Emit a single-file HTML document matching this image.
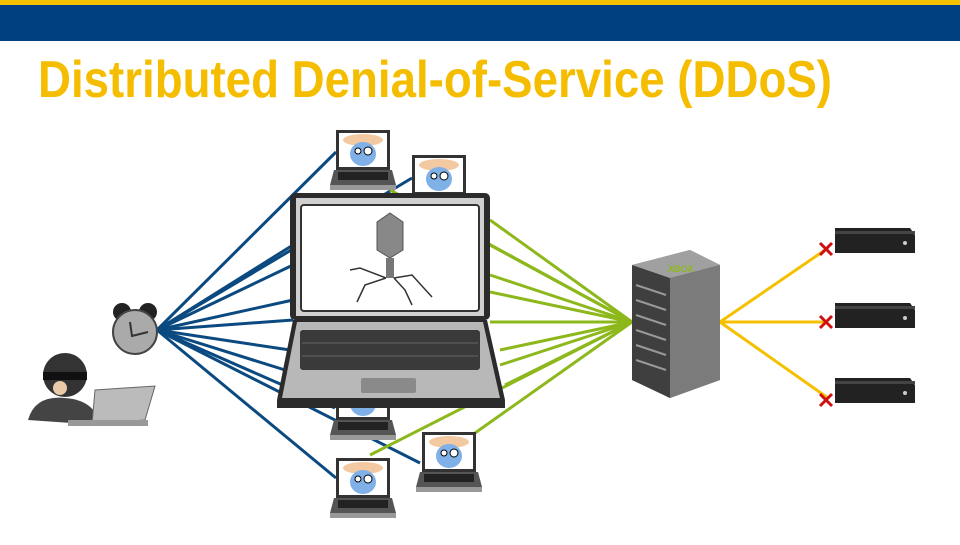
<!DOCTYPE html>
<html><head><style>
body{margin:0;width:960px;height:540px;overflow:hidden;background:#fff;font-family:"Liberation Sans",sans-serif}
</style></head><body>
<svg width="960" height="540" viewBox="0 0 960 540" xmlns="http://www.w3.org/2000/svg">
<rect x="0" y="0" width="960" height="5" fill="#f5c000"/>
<rect x="0" y="5" width="960" height="36" fill="#003f7f"/>
<text x="38" y="97" font-family="Liberation Sans, sans-serif" font-weight="bold" font-size="52" fill="#f5bd00" textLength="794" lengthAdjust="spacingAndGlyphs">Distributed Denial-of-Service (DDoS)</text>

<defs>
<g id="bot">
<rect x="0" y="0" width="54" height="40" fill="#333"/>
<rect x="3" y="3" width="48" height="34" fill="#fff"/>
<ellipse cx="27" cy="10" rx="20" ry="6" fill="#f2c9a0"/>
<ellipse cx="27" cy="24" rx="13" ry="12" fill="#7fb0e8"/>
<circle cx="22" cy="21" r="3" fill="#fff" stroke="#000"/><circle cx="32" cy="21" r="4" fill="#fff" stroke="#000"/>
<path d="M-2 40 H56 L60 55 H-6Z" fill="#555"/>
<rect x="2" y="42" width="50" height="8" fill="#222"/>
<path d="M-6 55 H60 V60 H-6Z" fill="#999"/>
</g>
</defs>

<g stroke="#0b4a80" stroke-width="3">
<line x1="157" y1="330" x2="336" y2="152"/>
<line x1="157" y1="330" x2="412" y2="178"/>
<line x1="157" y1="330" x2="293" y2="245"/>
<line x1="157" y1="330" x2="293" y2="265"/>
<line x1="157" y1="330" x2="293" y2="300"/>
<line x1="157" y1="330" x2="293" y2="320"/>
<line x1="157" y1="330" x2="290" y2="350"/>
<line x1="157" y1="330" x2="285" y2="370"/>
<line x1="157" y1="330" x2="335" y2="408"/>
<line x1="157" y1="330" x2="420" y2="463"/>
<line x1="157" y1="330" x2="336" y2="478"/>
</g>
<g stroke="#8db81c" stroke-width="3">
<line x1="632" y1="322" x2="390" y2="190"/>
<line x1="632" y1="322" x2="490" y2="220"/>
<line x1="632" y1="322" x2="490" y2="245"/>
<line x1="632" y1="322" x2="490" y2="275"/>
<line x1="632" y1="322" x2="490" y2="292"/>
<line x1="632" y1="322" x2="490" y2="322"/>
<line x1="632" y1="322" x2="500" y2="350"/>
<line x1="632" y1="322" x2="500" y2="365"/>
<line x1="632" y1="322" x2="505" y2="385"/>
<line x1="632" y1="322" x2="370" y2="455"/>
<line x1="632" y1="322" x2="475" y2="433"/>
</g>
<g stroke="#f5c000" stroke-width="3">
<line x1="720" y1="322" x2="828" y2="248"/>
<line x1="720" y1="322" x2="828" y2="322"/>
<line x1="720" y1="322" x2="828" y2="398"/>
</g>

<use href="#bot" x="336" y="130"/>
<use href="#bot" x="412" y="155"/>
<use href="#bot" x="336" y="380"/>
<use href="#bot" x="422" y="432"/>
<use href="#bot" x="336" y="458"/>

<!-- big laptop -->
<rect x="290" y="193" width="200" height="127" rx="5" fill="#2b2b2b"/>
<rect x="296" y="198" width="188" height="118" fill="#d0d0d0"/>
<rect x="301" y="205" width="178" height="106" rx="3" fill="#fff" stroke="#333" stroke-width="2"/>
<path d="M293 320 H487 L505 400 V408 H277 V400Z" fill="#2b2b2b"/>
<path d="M297 322 H483 L500 398 H282Z" fill="#b8b8b8"/>
<rect x="300" y="330" width="180" height="40" rx="3" fill="#3a3a3a"/>
<g stroke="#666" stroke-width="1"><line x1="302" y1="343" x2="478" y2="343"/><line x1="302" y1="356" x2="478" y2="356"/></g>
<rect x="361" y="378" width="55" height="15" rx="2" fill="#8a8a8a"/>
<!-- virus -->
<polygon points="390,213 403,222 403,250 390,258 377,250 377,222" fill="#888" stroke="#555"/>
<rect x="386" y="258" width="8" height="20" fill="#777"/>
<g stroke="#333" stroke-width="1.5" fill="none">
<path d="M386 278 L360 268 L350 270 M386 278 L365 285 L357 302 M394 278 L412 275 L432 297 M394 278 L405 290 L412 305"/>
</g>

<!-- server -->
<path d="M632 265 L690 250 L720 265 L720 380 L670 398 L632 380Z" fill="#6a6a6a"/>
<path d="M632 265 L670 278 L670 398 L632 380Z" fill="#3f3f3f"/>
<path d="M670 278 L720 265 L720 380 L670 398Z" fill="#7b7b7b"/>
<path d="M632 265 L690 250 L720 265 L670 278Z" fill="#a0a0a0"/>
<g stroke="#999" stroke-width="2"><line x1="636" y1="285" x2="666" y2="295"/><line x1="636" y1="300" x2="666" y2="310"/><line x1="636" y1="315" x2="666" y2="325"/><line x1="636" y1="330" x2="666" y2="340"/><line x1="636" y1="345" x2="666" y2="355"/><line x1="636" y1="360" x2="666" y2="370"/></g>
<text x="668" y="272" font-size="9" fill="#8db81c" font-weight="bold">XBOX</text>

<!-- consoles -->
<g><path d="M835 228 L910 228 L915 235 L915 253 L835 253Z" fill="#222"/><rect x="835" y="231" width="80" height="3" fill="#444"/><circle cx="905" cy="243" r="2" fill="#ccc"/></g>
<g transform="translate(0,75)"><path d="M835 228 L910 228 L915 235 L915 253 L835 253Z" fill="#222"/><rect x="835" y="231" width="80" height="3" fill="#444"/><circle cx="905" cy="243" r="2" fill="#ccc"/></g>
<g transform="translate(0,150)"><path d="M835 228 L910 228 L915 235 L915 253 L835 253Z" fill="#222"/><rect x="835" y="231" width="80" height="3" fill="#444"/><circle cx="905" cy="243" r="2" fill="#ccc"/></g>
<g stroke="#d01010" stroke-width="3">
<path d="M820 243 L832 255 M832 243 L820 255"/>
<path d="M820 316 L832 328 M832 316 L820 328"/>
<path d="M820 394 L832 406 M832 394 L820 406"/>
</g>

<!-- clock -->
<circle cx="122" cy="312" r="9" fill="#222"/><circle cx="148" cy="312" r="9" fill="#222"/>
<circle cx="135" cy="332" r="22" fill="#aaa" stroke="#444" stroke-width="2"/>
<path d="M130 322 L132 336 L148 332" stroke="#333" stroke-width="2" fill="none"/>

<!-- hacker -->
<circle cx="65" cy="375" r="22" fill="#333"/>
<rect x="43" y="372" width="44" height="8" fill="#111"/>
<circle cx="60" cy="388" r="7" fill="#e8c9a8"/>
<path d="M28 420 Q35 395 65 398 Q95 400 100 425 Z" fill="#444"/>
<path d="M95 390 L155 386 L145 420 L92 424Z" fill="#bbb" stroke="#666"/>
<rect x="68" y="420" width="80" height="6" fill="#999"/>
</svg>
</body></html>
